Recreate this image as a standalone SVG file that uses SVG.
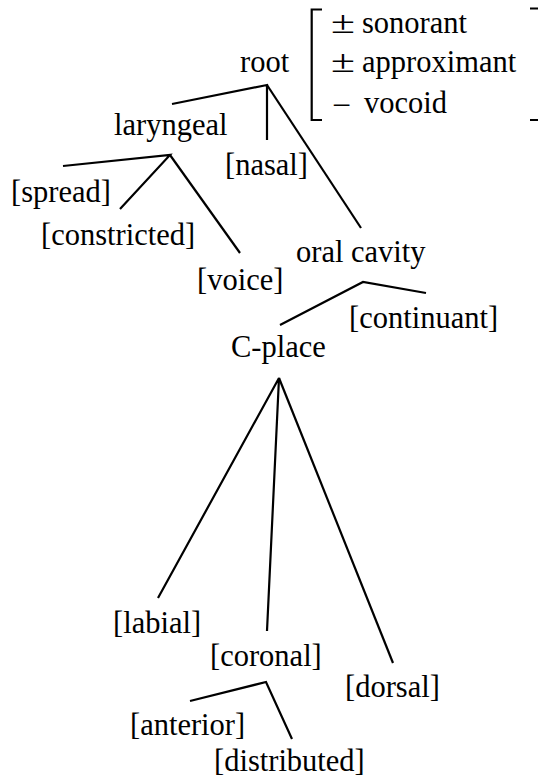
<svg xmlns="http://www.w3.org/2000/svg" width="538" height="779" viewBox="0 0 538 779">
<style>
text{font-family:'Liberation Serif','Times New Roman',serif;font-size:30.5px;fill:#000}
.e{stroke:#000;stroke-width:2.2;fill:none;stroke-linecap:butt;stroke-linejoin:miter}
</style>
<rect width="538" height="779" fill="#fff"/>
<g id="connectors">
<polyline class="e" points="172,104 267,85 267,140"/>
<line class="e" x1="267" y1="85" x2="361" y2="228"/>
<polyline class="e" points="63,166 170,155 120,209"/>
<line class="e" x1="170" y1="155" x2="240" y2="253"/>
<polyline class="e" points="280,325 363,282 426,293"/>
<polyline class="e" points="158,598 279,378 267,631"/>
<line class="e" x1="279" y1="378" x2="393" y2="663"/>
<polyline class="e" points="190,701 266,682 292,739"/>
</g>
<g id="root"><text x="240" y="72">root</text></g>
<g id="features">
<path class="e" d="M322,9.5 H311.7 V120 H322"/>
<path class="e" d="M530,8.5 H542 V120 H530"/>
<text x="331" y="33" textLength="24" lengthAdjust="spacingAndGlyphs">±</text><text x="362" y="33">sonorant</text>
<text x="331" y="72" textLength="24" lengthAdjust="spacingAndGlyphs">±</text><text x="362" y="72">approximant</text>
<text x="334" y="113">–</text><text x="364" y="113">vocoid</text>
</g>
<g id="laryngeal"><text x="114" y="135">laryngeal</text></g>
<g id="nasal"><text x="225" y="175">[nasal]</text></g>
<g id="spread"><text x="11" y="202">[spread]</text></g>
<g id="constricted"><text x="41" y="245">[constricted]</text></g>
<g id="voice"><text x="197" y="290">[voice]</text></g>
<g id="oral-cavity"><text x="296" y="262">oral cavity</text></g>
<g id="continuant"><text x="349" y="328">[continuant]</text></g>
<g id="c-place"><text x="231" y="357">C-place</text></g>
<g id="labial"><text x="113" y="633">[labial]</text></g>
<g id="coronal"><text x="210" y="666">[coronal]</text></g>
<g id="dorsal"><text x="345" y="697">[dorsal]</text></g>
<g id="anterior"><text x="130" y="735">[anterior]</text></g>
<g id="distributed"><text x="214" y="771">[distributed]</text></g>
</svg>
